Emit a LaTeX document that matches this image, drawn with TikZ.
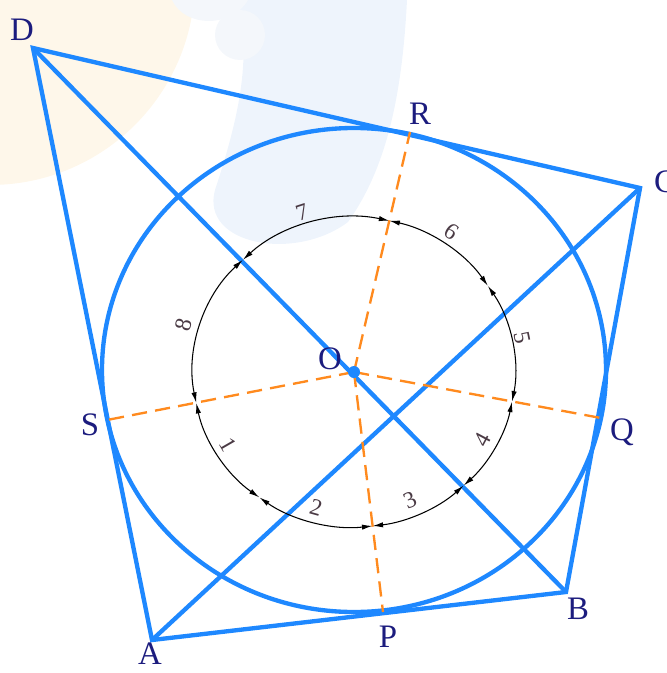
\documentclass[tikz,border=0pt]{standalone}
\usepackage{fontspec}
\setmainfont{Liberation Serif}
\usetikzlibrary{arrows.meta}
\definecolor{lblue}{HTML}{1E88FF}
\definecolor{dorange}{HTML}{FF8A1E}
\definecolor{navy}{HTML}{1C1C7E}
\definecolor{numc}{HTML}{4A3A44}
\definecolor{cream}{HTML}{FEF7EA}
\definecolor{bblob}{HTML}{EEF4FC}
\definecolor{bblob2}{HTML}{F4F7FB}
\tikzset{
  blueline/.style={draw=lblue, line width=3.7pt},
  tandash/.style={draw=dorange, line width=2pt, dash pattern=on 13pt off 7pt},
  arcst/.style={draw=black, line width=0.9pt, {Latex[length=9pt,width=4.5pt]}-{Latex[length=9pt,width=4.5pt]}},
  ptlabel/.style={text=navy, font=\fontsize{28}{32}\selectfont, inner sep=0pt},
  numlabel/.style={text=numc, font=\fontsize{20}{24}\selectfont, inner sep=0pt}
}
\begin{document}
\begin{tikzpicture}[x=0.03cm,y=-0.03cm]
\useasboundingbox (0,0) rectangle (666,673);
% background blobs
\fill[cream] (-10,-20) circle (205);
\fill[bblob] (238,0) .. controls (252,60) and (238,120) .. (215,190)
  .. controls (200,245) and (295,262) .. (348,222)
  .. controls (385,170) and (402,100) .. (407,0) -- cycle;
\fill[bblob2] (172,0) .. controls (185,28) and (232,28) .. (248,0) -- cycle;
\fill[bblob2] (240,35) circle (25);
% points
\coordinate (D) at (33,48);
\coordinate (C) at (640,188);
\coordinate (B) at (566,592);
\coordinate (A) at (152,640);
\coordinate (O) at (354,372);
\coordinate (R) at (410,132);
\coordinate (Q) at (601,418);
\coordinate (P) at (383,612);
\coordinate (S) at (107,420);
% big circle
\draw[blueline] (354,370) ellipse [x radius=252, y radius=242];
% quadrilateral and diagonals
\draw[blueline] (D) -- (C) -- (B) -- (A) -- cycle;
\draw[blueline] (D) -- (B);
\draw[blueline] (A) -- (C);
% small circle arcs
\foreach \a/\b in {-133.65/-77.3, -77.3/-33.75, -33.75/11.0, 11.0/47.1, 47.1/83.4, 83.4/126.0, 126.0/168.5, 168.5/226.35}
  \draw[arcst] (O) ++(\a:161 and 155) arc[start angle=\a, end angle=\b, x radius=161, y radius=155];
% dashed radii
\draw[tandash] (O) -- (R);
\draw[tandash] (O) -- (Q);
\draw[tandash] (O) -- (P);
\draw[tandash] (O) -- (S);
% centre dot
\fill[lblue] (O) circle (6);
% labels
\node[ptlabel] (lD) at (22,30) {D};
\node[ptlabel] (lR) at (420,114) {R};
\node[ptlabel] (lC) at (665,182) {C};
\node[ptlabel] (lS) at (90,425) {S};
\node[ptlabel] (lQ) at (622,432) {Q};
\node[ptlabel] (lP) at (388,637) {P};
\node[ptlabel] (lB) at (578,609) {B};
\node[ptlabel] (lA) at (150,654) {A};
\node[ptlabel] (lO) at (330,359) {O};
% arc numbers
\node[numlabel, rotate=-60] (n1) at (228,445) {1};
\node[numlabel, rotate=-15.6] (n2) at (316,508) {2};
\node[numlabel, rotate=23.6] (n3) at (410,500) {3};
\node[numlabel, rotate=62] (n4) at (482,440) {4};
\node[numlabel, rotate=-78.6] (n5) at (522,338) {5};
\node[numlabel, rotate=-35] (n6) at (452,232) {6};
\node[numlabel, rotate=18] (n7) at (302,212) {7};
\node[numlabel, rotate=74.5] (n8) at (184,325) {8};
\end{tikzpicture}
\end{document}
